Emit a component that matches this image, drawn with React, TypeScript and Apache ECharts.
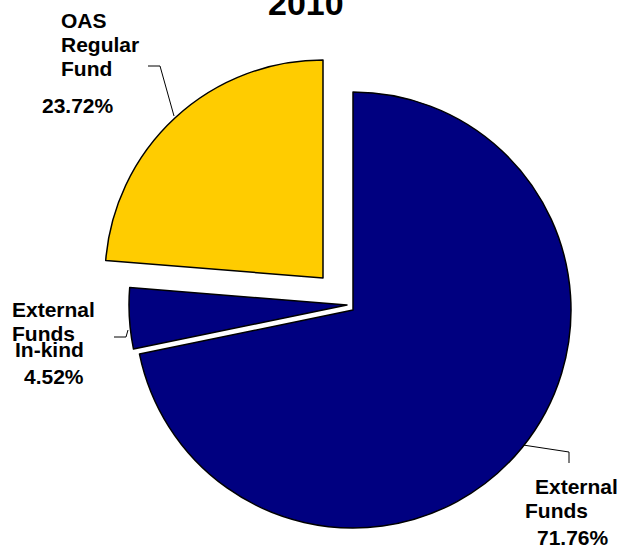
import React, { useEffect, useRef } from 'react';
import * as echarts from 'echarts';

const chartTitle = '2010';
const categories = ['External Funds', 'External Funds In-kind', 'OAS Regular Fund'];
const shares = [71.76, 4.52, 23.72];

const sliceColors = ['#000080', '#000080', '#FFCC00'];
// exploded slice vertices (layout)
const sliceCenters = [[353, 310], [347, 305], [323, 278]];
const labelPos = [[525, 474], [12, 297], [42, 8]];
const leaderPoints = [
  [[523, 445], [569, 452], [569, 463]],
  [[128, 330], [126, 337], [114, 337]],
  [[174, 116], [160, 66], [148, 66]],
];
// per label: per-line [paddingLeft, lineHeight]
const lineLayouts = [
  [[10, 24], [0, 24], [12, 30]],
  [[0, 24], [0, 24], [3, 8], [12, 46]],
  [[19, 24], [19, 24], [19, 24], [0, 50]],
];

const FONT = 'Liberation Sans, Arial, sans-serif';
const FS = 21;

export default function App() {
  const ref = useRef<HTMLDivElement>(null);
  useEffect(() => {
    if (!ref.current) return;
    const chart = echarts.init(ref.current, null, { renderer: 'svg' });
    const series = categories.map((_, own) => {
      const rich: Record<string, any> = {};
      lineLayouts[own].forEach(([pl, lh], i) => {
        rich['l' + i] = {
          fontFamily: FONT,
          fontWeight: 'bold',
          fontSize: FS,
          color: '#000',
          lineHeight: lh,
          padding: [0, 0, 0, pl],
        };
      });
      return {
        type: 'pie',
        center: sliceCenters[own],
        radius: 218,
        startAngle: 90,
        clockwise: true,
        avoidLabelOverlap: false,
        silent: true,
        emphasis: { disabled: true },
        label: {
          show: true,
          position: 'outside',
          fontFamily: FONT,
          fontWeight: 'bold',
          fontSize: FS,
          color: '#000',
          rich,
          formatter: (p: any) => {
            const words = String(p.name).split(' ');
            const lines = words.map((w, i) => `{l${i}|${w}}`);
            lines.push(`{l${words.length}|${Number(p.value).toFixed(2)}%}`);
            return lines.join('\n');
          },
        },
        labelLine: { show: true, lineStyle: { color: '#000', width: 1 } },
        labelLayout: (p: any) => {
          if (p.dataIndex !== own) return {};
          return {
            x: labelPos[own][0],
            y: labelPos[own][1],
            align: 'left',
            verticalAlign: 'top',
            labelLinePoints: leaderPoints[own],
          };
        },
        data: categories.map((name, i) => ({
          name,
          value: shares[i],
          itemStyle:
            i === own
              ? { color: sliceColors[i], borderColor: '#000', borderWidth: 1.5 }
              : { color: 'rgba(0,0,0,0)', borderWidth: 0 },
          label: { show: i === own },
          labelLine: { show: i === own },
        })),
      };
    });
    chart.setOption({
      animation: false,
      backgroundColor: '#fff',
      title: {
        text: chartTitle,
        left: 263,
        top: -19,
        textStyle: { fontFamily: FONT, fontWeight: 'bold', fontSize: 34, color: '#000' },
      },
      series,
    });
    return () => chart.dispose();
  }, []);
  return (
    <div
      ref={ref}
      style={{ position: 'absolute', left: 0, top: 0, width: 620, height: 548 }}
    />
  );
}
